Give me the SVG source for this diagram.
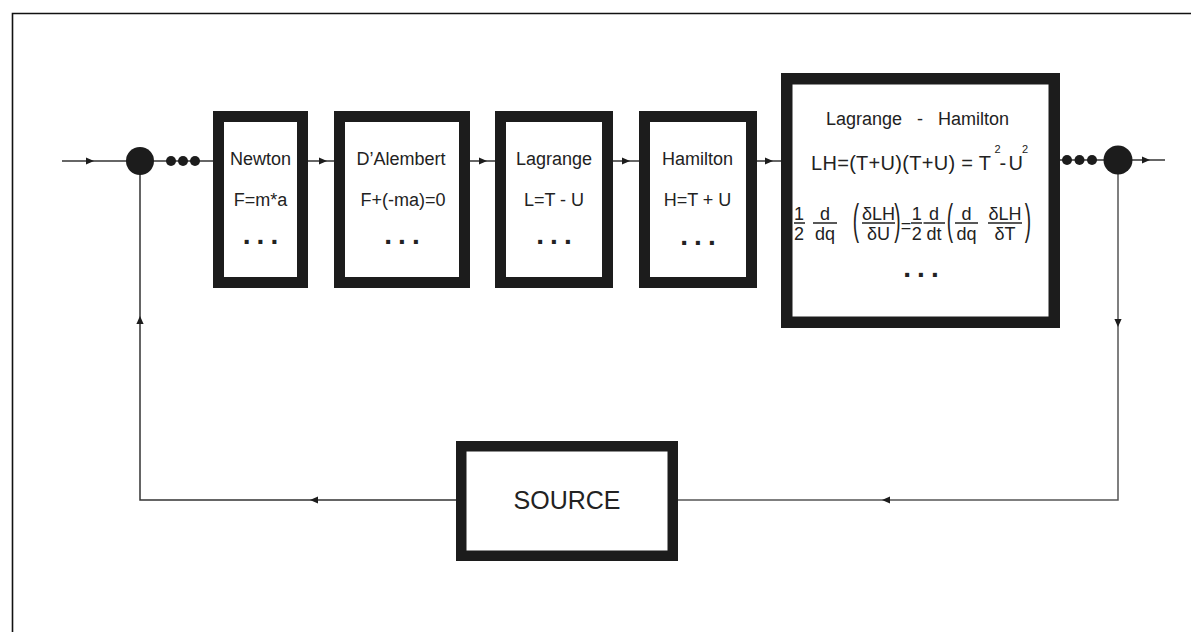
<svg xmlns="http://www.w3.org/2000/svg" width="1191" height="632" viewBox="0 0 1191 632">
<style>
  .box{fill:#fff;stroke:#1c1c1c}
  .t{font-family:"Liberation Sans",Arial,sans-serif;fill:#222;font-size:18px}
  .mid{text-anchor:middle}
  .dots{font-family:"Liberation Sans",Arial,sans-serif;font-weight:bold;font-size:28px;fill:#222;letter-spacing:6px;text-anchor:middle}
  .ln{stroke:#333;stroke-width:1.5;fill:none}
  .bar{stroke:#222;stroke-width:1.3}
  .jn{fill:#1c1c1c}
</style>
<defs>
  <path id="ah" d="M0,0 L-8,-3.6 L-8,3.6 Z" fill="#1c1c1c"/>
</defs>
<rect width="1191" height="632" fill="#fff"/>
<path d="M12.5,632 L12.5,13.5 L1191,13.5" fill="none" stroke="#111" stroke-width="1.6"/>

<g id="connectors">
  <path class="ln" d="M62,161 H213"/>
  <use href="#ah" transform="translate(94,161)"/>
  <path class="ln" d="M308,161 H334"/>
  <use href="#ah" transform="translate(327,161)"/>
  <path class="ln" d="M470,161 H495"/>
  <use href="#ah" transform="translate(487,161)"/>
  <path class="ln" d="M613,161 H639"/>
  <use href="#ah" transform="translate(630,161)"/>
  <path class="ln" d="M757,161 H781"/>
  <use href="#ah" transform="translate(773,161)"/>
  <path class="ln" d="M1060,160 H1165"/>
  <use href="#ah" transform="translate(1150,160)"/>
  <path class="ln" d="M1118,160 V500 H678" style="stroke:#555"/>
  <use href="#ah" transform="translate(1118,327) rotate(90)"/>
  <use href="#ah" transform="translate(882,500) rotate(180)"/>
  <path class="ln" d="M456,500 H140 V161"/>
  <use href="#ah" transform="translate(310,500) rotate(180)"/>
  <use href="#ah" transform="translate(140,316) rotate(-90)"/>
</g>

<g id="junction-in">
  <circle class="jn" cx="140" cy="161" r="14"/>
  <circle class="jn" cx="171" cy="161" r="5"/>
  <circle class="jn" cx="183" cy="161" r="5"/>
  <circle class="jn" cx="195" cy="161" r="5"/>
</g>
<g id="junction-out">
  <circle class="jn" cx="1067" cy="160" r="5"/>
  <circle class="jn" cx="1079.5" cy="160" r="5"/>
  <circle class="jn" cx="1092" cy="160" r="5"/>
  <circle class="jn" cx="1118" cy="160" r="14.5"/>
</g>

<g id="newton">
  <rect class="box" x="218.5" y="116.5" width="84" height="166" stroke-width="11"/>
  <text class="t mid" x="260.5" y="165">Newton</text>
  <text class="t mid" x="260.5" y="206">F=m*a</text>
  <text class="dots" x="263.5" y="244">...</text>
</g>
<g id="dalembert">
  <rect class="box" x="339.5" y="116.5" width="125" height="166" stroke-width="11"/>
  <text class="t mid" x="401" y="165">D’Alembert</text>
  <text class="t mid" x="403" y="206">F+(-ma)=0</text>
  <text class="dots" x="405" y="244">...</text>
</g>
<g id="lagrange">
  <rect class="box" x="500.5" y="116.5" width="107" height="166" stroke-width="11"/>
  <text class="t mid" x="554" y="165">Lagrange</text>
  <text class="t mid" x="554" y="206">L=T - U</text>
  <text class="dots" x="557" y="244">...</text>
</g>
<g id="hamilton">
  <rect class="box" x="644.5" y="116.5" width="107" height="166" stroke-width="11"/>
  <text class="t mid" x="697.5" y="165">Hamilton</text>
  <text class="t mid" x="697.5" y="206">H=T + U</text>
  <text class="dots" x="701" y="245">...</text>
</g>
<g id="lagrange-hamilton">
  <rect class="box" x="786.75" y="78.75" width="267.5" height="243.5" stroke-width="11.5"/>
  <text class="t mid" x="917.5" y="125" xml:space="preserve" style="white-space:pre">Lagrange   -   Hamilton</text>
  <text class="t" x="811" y="170" style="font-size:20px;letter-spacing:0.3px">LH=(T+U)(T+U) = T<tspan x="994.5" y="153" style="font-size:11px;letter-spacing:0">2</tspan><tspan x="999.5" y="170" style="letter-spacing:0">-</tspan><tspan x="1008.5" y="170" style="letter-spacing:0">U</tspan><tspan x="1022" y="153" style="font-size:11px;letter-spacing:0">2</tspan></text>
  <g class="t mid">
    <text x="799" y="219.5">1</text><text x="799" y="240">2</text>
    <text x="825" y="219.5">d</text><text x="825" y="240">dq</text>
    <text x="878.5" y="219.5">δLH</text><text x="878.5" y="240">δU</text>
    <text x="906" y="231.5">=</text>
    <text x="916.7" y="219.5">1</text><text x="916.7" y="240">2</text>
    <text x="934" y="219.5">d</text><text x="934" y="240">dt</text>
    <text x="966.5" y="219.5">d</text><text x="966.5" y="240">dq</text>
    <text x="1005" y="219.5">δLH</text><text x="1005" y="240">δT</text>
    <text transform="translate(856,234) scale(1,2.25)" style="font-size:19px">(</text>
    <text transform="translate(897.5,234) scale(1,2.25)" style="font-size:19px">)</text>
    <text transform="translate(950,234) scale(1,2.25)" style="font-size:19px">(</text>
    <text transform="translate(1028,234) scale(1,2.25)" style="font-size:19px">)</text>
  </g>
  <path class="bar" d="M794,223 H805 M813,223 H837 M862,223 H895 M911,223 H922 M923.5,223 H945 M955,223 H978 M988,223 H1022"/>
  <text class="dots" x="924" y="277">...</text>
</g>
<g id="source">
  <rect class="box" x="461.25" y="446.25" width="211.5" height="109.5" stroke-width="10.5"/>
  <text class="t mid" x="567" y="509" style="font-size:25px">SOURCE</text>
</g>
</svg>
